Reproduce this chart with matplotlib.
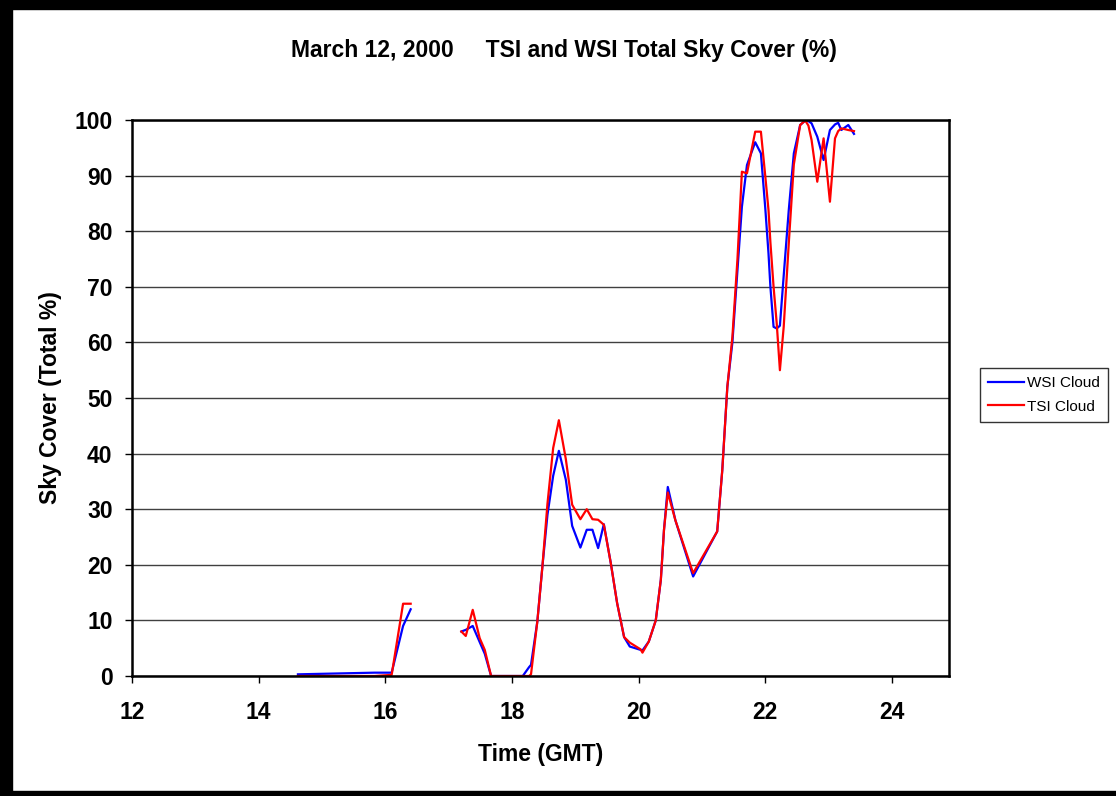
import matplotlib
matplotlib.use("Agg")
import matplotlib.pyplot as plt
import numpy as np
from matplotlib.patches import Rectangle

# hours GMT; nan marks the data gap
time_gmt = [14.62, 15.83, 16.1, 16.28, 16.4, np.nan,
            17.2, 17.27, 17.38, 17.49, 17.57, 17.67, 18.17, 18.27, 18.3,
            18.4, 18.48, 18.56, 18.65, 18.74, 18.85, 18.95, 19.08, 19.18,
            19.27, 19.36, 19.45, 19.56, 19.66, 19.77, 19.86, 20.03, 20.06,
            20.16, 20.27, 20.35, 20.4, 20.46, 20.58, 20.86, 21.24, 21.32,
            21.4, 21.48, 21.56, 21.63, 21.71, 21.84, 21.93, 22.0, 22.05,
            22.08, 22.13, 22.18, 22.23, 22.29, 22.37, 22.45, 22.55, 22.63,
            22.68, 22.73, 22.82, 22.92, 23.02, 23.1, 23.15, 23.2, 23.31, 23.4]

wsi_cloud = [0.3, 0.6, 0.6, 9.0, 12.0, np.nan,
             8.0, 8.3, 9.0, 6.1, 4.0, 0.0, 0.0, 1.6, 2.0,
             9.8, 19.7, 29.0, 36.0, 40.5, 35.3, 27.0, 23.1, 26.3,
             26.3, 23.0, 27.3, 20.3, 13.1, 7.0, 5.3, 4.7, 4.6,
             6.2, 10.0, 17.3, 26.3, 34.0, 28.0, 17.9, 26.0, 37.0,
             52.0, 60.0, 73.0, 84.4, 91.9, 96.0, 94.0, 84.0, 76.0,
             70.0, 62.8, 62.5, 63.0, 72.0, 83.8, 94.0, 99.1, 99.9,
             99.8, 99.4, 97.0, 92.8, 98.2, 99.2, 99.5, 98.2, 99.1, 97.5]

tsi_cloud = [0.0, 0.0, 0.2, 13.0, 13.0, np.nan,
             8.0, 7.2, 11.9, 6.8, 4.7, 0.0, 0.0, 0.0, 0.3,
             9.8, 19.7, 31.0, 41.0, 46.0, 39.0, 30.8, 28.2, 30.0,
             28.2, 28.1, 27.2, 20.3, 13.1, 7.0, 6.0, 4.8, 4.2,
             6.2, 10.0, 17.3, 26.3, 33.0, 28.0, 18.5, 26.0, 37.0,
             52.0, 61.0, 75.0, 90.7, 90.4, 97.9, 97.9, 89.8, 83.8,
             78.0, 70.0, 63.4, 55.0, 62.8, 77.8, 92.0, 99.1, 99.9,
             99.0, 96.4, 88.9, 96.7, 85.3, 96.7, 98.0, 98.5, 98.2, 98.0]

y_ticks = np.arange(0, 101, 10)
x_ticks = np.arange(12, 25, 2)

W, H = 1116, 796
fig = plt.figure(figsize=(W / 100, H / 100), dpi=100)
plt.rcParams['font.family'] = ['Liberation Sans', 'DejaVu Sans']
fs = 16.5

# black frame round the picture (left, top, bottom)
fig.patches.append(Rectangle((0, 0), 12 / W, 1, transform=fig.transFigure,
                             color="black", zorder=0))
fig.patches.append(Rectangle((0, 1 - 9 / H), 1, 9 / H, transform=fig.transFigure,
                             color="black", zorder=0))
fig.patches.append(Rectangle((0, 0), 1, 5 / H, transform=fig.transFigure,
                             color="black", zorder=0))

ax = fig.add_axes([132 / W, (H - 676) / H, 817 / W, 556 / H])

ax.plot(time_gmt, wsi_cloud, color="#0000FF", lw=1.6, label="WSI Cloud")
ax.plot(time_gmt, tsi_cloud, color="#FF0000", lw=1.6, label="TSI Cloud")

ax.set_xlim(12, 24.9)
ax.set_ylim(0, 100)
ax.set_xticks(x_ticks)
ax.set_yticks(y_ticks)
ax.yaxis.grid(True, color="#404040", lw=1)
ax.set_axisbelow(True)
for s in ax.spines.values():
    s.set_linewidth(1.8)
    s.set_color("black")
ax.tick_params(direction="out", length=5, width=1, labelsize=fs)
ax.tick_params(axis="x", pad=13)
ax.tick_params(axis="y", pad=9)
for lbl in ax.get_xticklabels() + ax.get_yticklabels():
    lbl.set_fontweight("bold")

ax.set_xlabel("Time (GMT)", fontsize=fs, fontweight="bold", labelpad=14)
ax.set_ylabel("Sky Cover (Total %)", fontsize=fs, fontweight="bold", labelpad=9)
fig.text(564 / W, 1 - 50 / H,
         "March 12, 2000     TSI and WSI Total Sky Cover (%)",
         ha="center", va="center", fontsize=fs, fontweight="bold")

leg = ax.legend(loc="upper left", bbox_to_anchor=(980 / W, 1 - 368 / H),
                bbox_transform=fig.transFigure, fontsize=11, frameon=True,
                fancybox=False, handlelength=2.3, handletextpad=0.2,
                borderpad=0.55, labelspacing=0.6, borderaxespad=0)
leg.get_frame().set_edgecolor("black")
leg.get_frame().set_linewidth(1)

fig.savefig("out.png", dpi=100)
